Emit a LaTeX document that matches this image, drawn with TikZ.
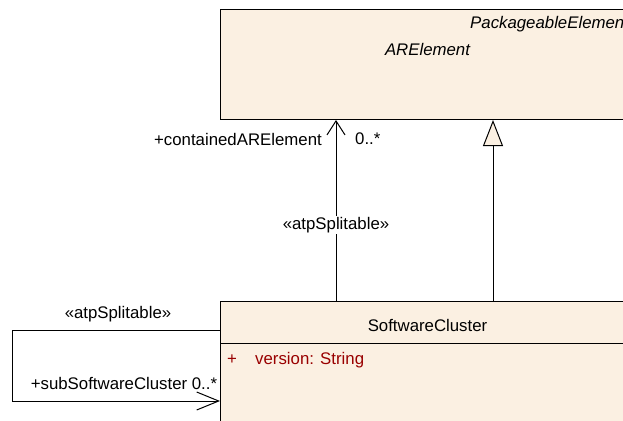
\documentclass[tikz,border=0pt]{standalone}
\usepackage{fontspec}
\setmainfont{Liberation Sans}
\usetikzlibrary{arrows.meta}
\definecolor{classfill}{RGB}{251,240,226}
\definecolor{attrred}{RGB}{153,0,0}

\begin{document}
\begin{tikzpicture}[x=1pt,y=-1pt,font=\fontsize{16.8}{20}\selectfont]
  \tikzstyle{classbox}=[draw,fill=classfill,line width=1pt,minimum width=414pt,anchor=north west,inner sep=0pt]
  \tikzstyle{assoc}=[line width=1pt,-{Straight Barb[length=14pt,width=18pt]}]
  \tikzstyle{general}=[line width=1pt,-{Triangle[open,length=26pt,width=20pt,fill=classfill]}]
  \tikzstyle{lbl}=[inner sep=1pt]
  \useasboundingbox (0,0) rectangle (623,420);
  \clip (0,0) rectangle (623,420);
  % classes
  \node[classbox,minimum height=110pt] (arelem) at (220,9) {};
  \node[lbl,anchor=west,font=\fontsize{16.8}{20}\selectfont\itshape] (pkgname) at ([xshift=249pt,yshift=-15pt]arelem.north west) {PackageableElement};
  \node[lbl,font=\fontsize{16.8}{20}\selectfont\itshape] (arname) at ([yshift=-40pt]arelem.north) {ARElement};
  \node[classbox,minimum height=140pt] (swc) at (220,301) {};
  \draw[line width=1pt] ([yshift=-42pt]swc.north west) -- ([yshift=-42pt]swc.north east);
  \node[lbl] (swcname) at ([yshift=-24pt]swc.north) {SoftwareCluster};
  \node[lbl,text=attrred] (plus) at ([xshift=12pt,yshift=-59pt]swc.north west) {+};
  \node[lbl,anchor=west,text=attrred] (attr) at ([xshift=34pt,yshift=-59pt]swc.north west) {version: String};
  % connectors
  \draw[assoc] ([xshift=116pt]swc.north west) -- ([xshift=116pt]arelem.south west)
    node[pos=0.42,lbl,fill=white] (stereo) {«atpSplitable»};
  \draw[general] ([xshift=273pt]swc.north west) -- ([xshift=273pt]arelem.south west);
  \draw[line width=1pt,-{Straight Barb[length=22pt,width=18pt]}] ([yshift=-29pt]swc.north west) -- ++(-208,0) |- ([yshift=-100pt]swc.north west);
  % role labels
  \node[lbl,anchor=east] (role) at ([xshift=103pt,yshift=-19pt]arelem.south west) {+containedARElement};
  \node[lbl,anchor=west] (mult) at ([xshift=134pt,yshift=-19pt]arelem.south west) {0..*};
  \node[lbl] (loopstereo) at (118,314) {«atpSplitable»};
  \node[lbl] (looprole) at (124,383) {+subSoftwareCluster 0..*};
\end{tikzpicture}
\end{document}
